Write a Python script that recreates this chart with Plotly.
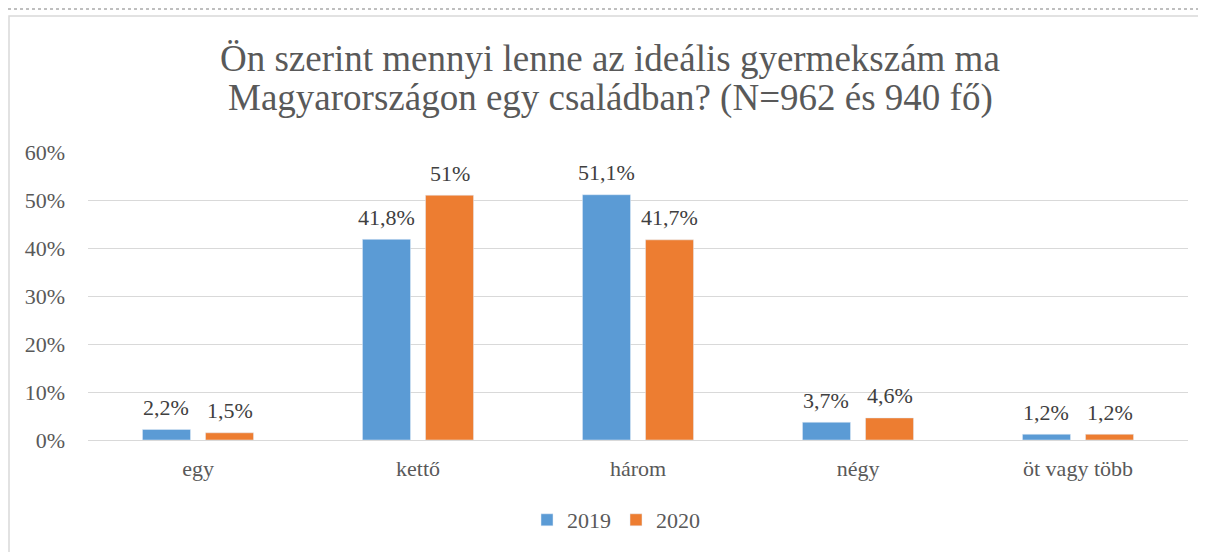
import plotly.graph_objects as go

categories = ["egy", "kettő", "három", "négy", "öt vagy több"]
values_2019 = [2.2, 41.8, 51.1, 3.7, 1.2]
values_2020 = [1.5, 51.0, 41.7, 4.6, 1.2]
labels_2019 = ["2,2%", "41,8%", "51,1%", "3,7%", "1,2%"]
labels_2020 = ["1,5%", "51%", "41,7%", "4,6%", "1,2%"]
y_ticks = [0, 10, 20, 30, 40, 50, 60]
y_tick_labels = ["0%", "10%", "20%", "30%", "40%", "50%", "60%"]
title_lines = ["Ön szerint mennyi lenne az ideális gyermekszám ma",
               "Magyarországon egy családban? (N=962 és 940 fő)"]

FONT = "Liberation Serif"
OFF = 8  # page body margin
W, H = 1206 - OFF, 552 - OFF
L, R, T, B = 80, 18, 144, 112
PW, PH = W - L - R, H - T - B
BARGAP, GROUPGAP = 0.427, 0.238
SLOT = PW / len(categories) * (1 - BARGAP) / 2  # px width per bar slot


def px_x(px):
    return (px - OFF - L) / PW


def px_y(py):
    return (H - B - (py - OFF)) / PH


fig = go.Figure()
fig.add_trace(go.Bar(name="2019", x=categories, y=values_2019, marker_color="#5b9bd5"))
fig.add_trace(go.Bar(name="2020", x=categories, y=values_2020, marker_color="#ed7d31"))

label_annotations = []
for vals, labs, shift in ((values_2019, labels_2019, -SLOT / 2), (values_2020, labels_2020, SLOT / 2)):
    for c, v, t in zip(categories, vals, labs):
        label_annotations.append(dict(
            text=t, x=c, y=v, xref="x", yref="y", xshift=shift, yshift=22,
            xanchor="center", yanchor="middle", showarrow=False,
            font=dict(family=FONT, size=22, color="#404040")))

fig.update_layout(
    width=W, height=H,
    margin=dict(l=L, r=R, t=T, b=B, autoexpand=False),
    paper_bgcolor="white", plot_bgcolor="white",
    barmode="group", bargap=BARGAP, bargroupgap=GROUPGAP,
    font=dict(family=FONT, color="#595959", size=22),
    showlegend=True,
    legend=dict(orientation="h", x=px_x(616), xanchor="center", y=px_y(520), yanchor="middle",
                font=dict(family=FONT, size=22, color="#595959"), itemwidth=30,
                traceorder="normal"),
    xaxis=dict(showgrid=False, showline=False, ticks="", tickfont=dict(family=FONT, size=22, color="#595959"),
               ticklabelstandoff=13),
    yaxis=dict(range=[0, 60], tickvals=y_ticks, ticktext=y_tick_labels, showgrid=True,
               gridcolor="#d9d9d9", gridwidth=1, zeroline=True, zerolinecolor="#d9d9d9",
               zerolinewidth=1, ticks="", showline=False,
               tickfont=dict(family=FONT, size=22, color="#595959"), ticklabelstandoff=22),
    annotations=[
        dict(text=title_lines[0], x=px_x(610), y=px_y(58), xref="paper", yref="paper",
             xanchor="center", yanchor="middle", showarrow=False,
             font=dict(family=FONT, size=37, color="#595959")),
        dict(text=title_lines[1], x=px_x(610), y=px_y(98), xref="paper", yref="paper",
             xanchor="center", yanchor="middle", showarrow=False,
             font=dict(family=FONT, size=37, color="#595959")),
    ] + label_annotations,
    shapes=[
        dict(type="rect", xref="paper", yref="paper", x0=px_x(9), x1=px_x(1203),
             y0=px_y(16), y1=px_y(570), line=dict(color="#d9d9d9", width=1.5)),
        dict(type="line", xref="paper", yref="paper", x0=px_x(8), x1=px_x(1206),
             y0=px_y(9), y1=px_y(9), line=dict(color="#bfbfbf", width=2, dash="dot")),
    ],
)

fig.write_html("out.html")
